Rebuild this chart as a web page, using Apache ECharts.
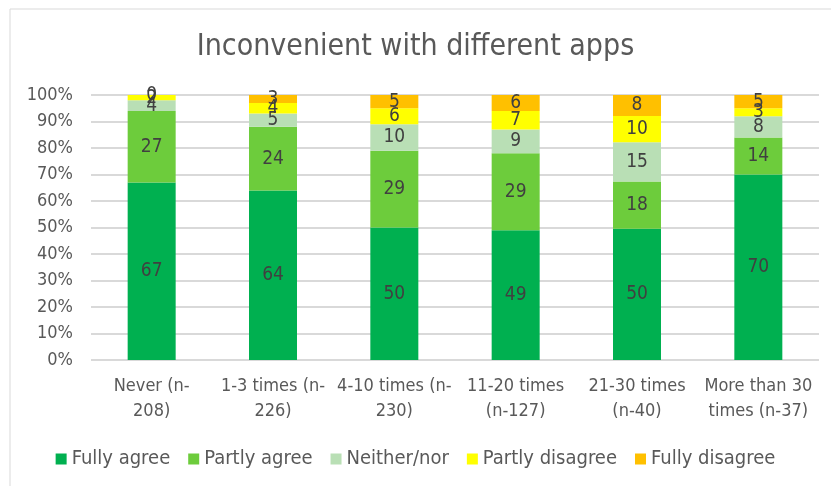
<!DOCTYPE html>
<html>
<head>
<meta charset="utf-8">
<script src="https://cdn.jsdelivr.net/npm/echarts@6/dist/echarts.min.js"></script>
<style>
  html, body { margin: 0; padding: 0; background: #fff; }
  #chart { width: 831px; height: 486px; }
</style>
</head>
<body>
<div id="chart"></div>
<script>
const categories = [
  'Never (n-\n208)',
  '1-3 times (n-\n226)',
  '4-10 times (n-\n230)',
  '11-20 times\n(n-127)',
  '21-30 times\n(n-40)',
  'More than 30\ntimes (n-37)',
];

const fullyAgree = [67, 64, 50, 49, 50, 70];
const partlyAgree = [27, 24, 29, 29, 18, 14];
const neitherNor = [4, 5, 10, 9, 15, 8];
const partlyDisagree = [2, 4, 6, 7, 10, 3];
const fullyDisagree = [0, 3, 5, 6, 8, 5];

const seriesNames = ['Fully agree', 'Partly agree', 'Neither/nor', 'Partly disagree', 'Fully disagree'];
const seriesColors = ['#00B050', '#6DCC3C', '#B9DFB5', '#FFFF00', '#FFC000'];
const seriesValues = [fullyAgree, partlyAgree, neitherNor, partlyDisagree, fullyDisagree];

// 100% stacked like Excel: each column is scaled to its own total
const totals = categories.map((_, i) => seriesValues.reduce((s, arr) => s + arr[i], 0));

const font = '"Liberation Sans Narrow", "DejaVu Sans Condensed", "Open Sans", sans-serif';

const chart = echarts.init(document.getElementById('chart'));

chart.setOption({
  animation: false,
  backgroundColor: '#fff',
  graphic: [{
    type: 'rect',
    shape: { x: 10, y: 9, width: 840, height: 500 },
    style: { fill: 'none', stroke: '#d9d9d9', lineWidth: 1 },
  }],
  title: {
    text: 'Inconvenient with different apps',
    left: 'center',
    top: 27,
    textStyle: { fontFamily: font, fontSize: 30, fontWeight: 'normal', color: '#595959' },
  },
  legend: {
    data: seriesNames,
    bottom: 12,
    left: 'center',
    itemWidth: 11,
    itemHeight: 11,
    itemGap: 18,
    icon: 'rect',
    textStyle: { fontFamily: font, fontSize: 20, color: '#595959' },
  },
  grid: {
    left: 91,
    right: 12,
    top: 95,
    bottom: 126,
  },
  xAxis: {
    type: 'category',
    data: categories,
    axisLine: { show: false },
    axisTick: { show: false },
    axisLabel: {
      fontFamily: font,
      fontSize: 18,
      color: '#595959',
      lineHeight: 25,
      margin: 14,
      interval: 0,
    },
  },
  yAxis: {
    type: 'value',
    min: 0,
    max: 100,
    interval: 10,
    axisLine: { show: false },
    axisTick: { show: false },
    splitLine: { lineStyle: { color: '#d9d9d9', width: 2 } },
    axisLabel: {
      fontFamily: font,
      fontSize: 18,
      color: '#595959',
      margin: 18,
      formatter: '{value}%',
    },
  },
  series: seriesNames.map((name, k) => ({
    name,
    type: 'bar',
    stack: 'total',
    barWidth: 48,
    data: seriesValues[k].map((v, i) => ({ value: v * 100 / totals[i], raw: v })),
    itemStyle: { color: seriesColors[k] },
    label: {
      show: true,
      position: 'inside',
      fontFamily: font,
      fontSize: 19,
      color: '#404040',
      formatter: (p) => String(p.data.raw),
    },
  })),
});
</script>
</body>
</html>
